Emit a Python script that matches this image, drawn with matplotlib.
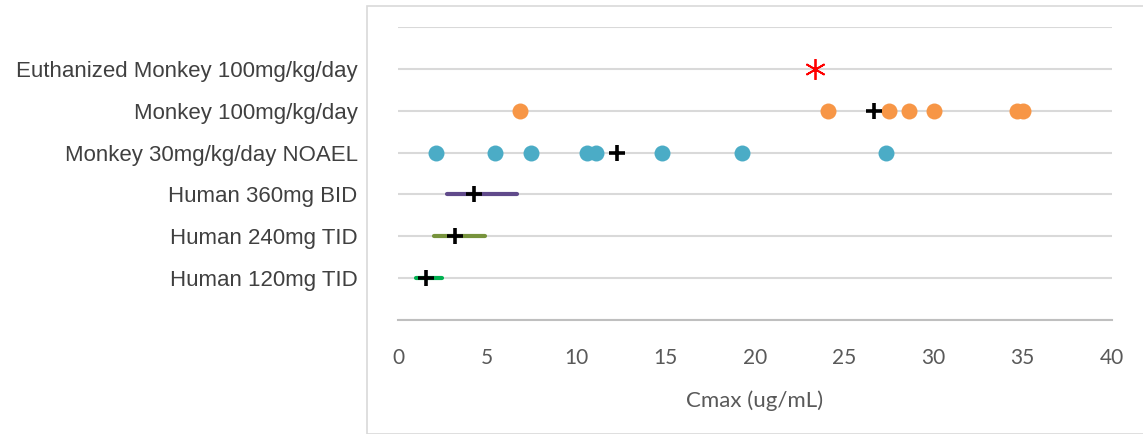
import matplotlib.pyplot as plt
from matplotlib.patches import Rectangle

groups = ['Human 120mg TID', 'Human 240mg TID', 'Human 360mg BID',
          'Monkey 30mg/kg/day NOAEL', 'Monkey 100mg/kg/day', 'Euthanized Monkey 100mg/kg/day']

# human ranges (min, max) and means
human_lo = [0.99, 2.03, 2.76]
human_hi = [2.45, 4.89, 6.65]
human_mean = [1.55, 3.18, 4.27]
human_colors = ['#00B050', '#77933C', '#604A8B']

monkey30 = [2.13, 5.43, 7.45, 10.59, 11.09, 14.79, 19.27, 27.34]
monkey30_mean = 12.26
monkey100 = [6.85, 24.07, 27.52, 28.61, 30.03, 34.66, 35.03]
monkey100_mean = 26.68
euthanized = [23.36]

fig = plt.figure(figsize=(11.43, 4.34), dpi=100)
ax = fig.add_axes([398 / 1143, 1 - 320 / 434, 714 / 1143, 293 / 434])

# outer chart box (cropped at right/bottom)
fig.patches.append(Rectangle((367 / 1143, 0.0), 1.0, 1 - 6 / 434, transform=fig.transFigure,
                             fill=False, edgecolor='#D9D9D9', linewidth=1.2))

for i in range(3):
    y = i + 1
    ax.plot([human_lo[i], human_hi[i]], [y, y], color=human_colors[i], lw=3,
            solid_capstyle='round', zorder=3)
    ax.plot(human_mean[i], y, marker='+', color='black', ms=11, mew=2.6, zorder=4)

ax.plot(monkey30, [4] * len(monkey30), 'o', color='#4BACC6', ms=11.5, mec='none', zorder=3)
ax.plot(monkey30_mean, 4, marker='+', color='black', ms=11, mew=2.6, zorder=4)
ax.plot(monkey100, [5] * len(monkey100), 'o', color='#F79646', ms=11.5, mec='none', zorder=3)
ax.plot(monkey100_mean, 5, marker='+', color='black', ms=11, mew=2.6, zorder=4)
ax.plot(euthanized, [6], marker=(6, 2, 0), color='#FF0000', ms=15, mew=1.3, zorder=4)

ax.set_xlim(0, 40)
ax.set_ylim(0, 7)
ax.set_xticks(range(0, 41, 5))
ax.set_yticks(range(0, 8))
ax.set_yticklabels([''] + groups + [''], fontsize=16, fontfamily='Liberation Sans', color='#404040')
for lbl in ax.get_xticklabels():
    lbl.set_fontfamily('Lato')
    lbl.set_fontsize(15)
    lbl.set_color('#595959')
ax.tick_params(axis='both', length=0)
ax.tick_params(axis='y', pad=29)
ax.tick_params(axis='x', pad=20)
ax.set_xlabel('Cmax (ug/mL)', fontfamily='Lato', fontsize=16, color='#595959', labelpad=16)

ax.grid(axis='y', color='#D9D9D9', lw=1.5)
ax.set_axisbelow(True)
for s in ['top', 'right', 'left']:
    ax.spines[s].set_visible(False)
ax.spines['bottom'].set_color('#BFBFBF')
ax.spines['bottom'].set_linewidth(1.5)

fig.savefig('out.png', dpi=100)
